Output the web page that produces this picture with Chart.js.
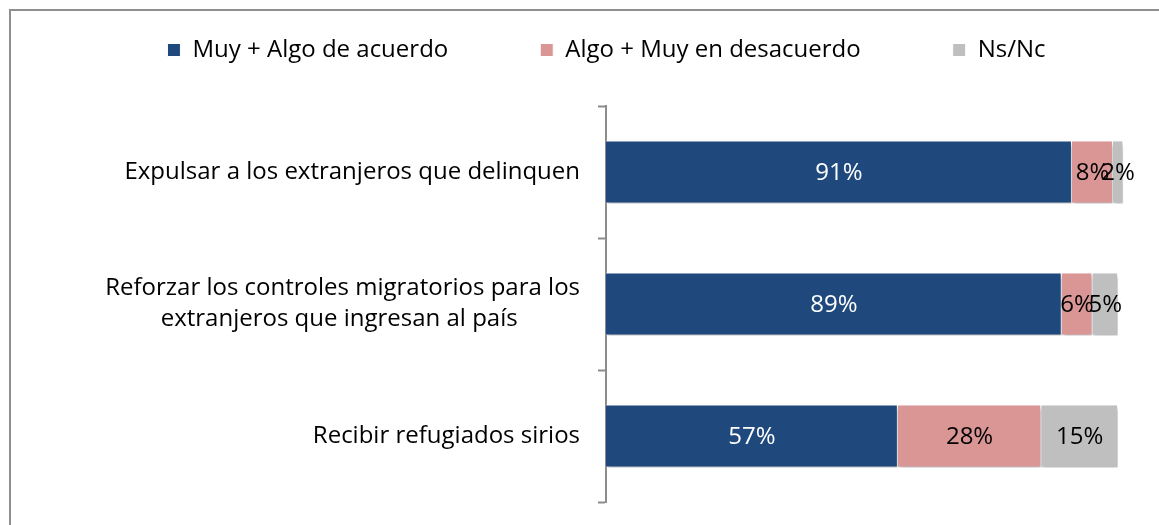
<!DOCTYPE html>
<html>
<head>
<meta charset="utf-8">
<script src="https://cdn.jsdelivr.net/npm/chart.js@4.4.0/dist/chart.umd.min.js"></script>
<style>
  html, body { margin: 0; padding: 0; background: #fff; }
  #wrap { position: absolute; left: 0; top: 0; width: 1159px; height: 525px; }
  #frame { position: absolute; left: 9px; top: 9px; width: 1200px; height: 600px;
           border-left: 2px solid #8f8f8f; border-top: 2px solid #8f8f8f; }
</style>
</head>
<body>
<div id="frame"></div>
<div id="wrap"><canvas id="chart" width="1159" height="525"></canvas></div>
<script>
// Categories (multi-line labels as arrays)
const categories = [
  'Expulsar a los extranjeros que delinquen',
  ['Reforzar los controles migratorios para los', 'extranjeros que ingresan al país          '],
  'Recibir refugiados sirios'
];
const seriesNames = ['Muy + Algo de acuerdo', 'Algo + Muy en desacuerdo', 'Ns/Nc'];
const acuerdo = [91, 89, 57];
const desacuerdo = [8, 6, 28];
const nsnc = [2, 5, 15];
const colors = ['#1f497d', '#d99694', '#bfbfbf'];
const labelColors = ['#ffffff', '#000000', '#000000'];

const FONT = '"Open Sans", Lato, sans-serif';

// soft shadow under the bars
const barShadow = {
  id: 'barShadow',
  beforeDatasetsDraw(chart) {
    const ctx = chart.ctx;
    ctx.save();
    ctx.shadowColor = 'rgba(0,0,0,0.3)';
    ctx.shadowBlur = 4;
    ctx.shadowOffsetX = 1;
    ctx.shadowOffsetY = 3;
  },
  afterDatasetsDraw(chart) {
    chart.ctx.restore();
  }
};

// value labels centred in each segment
const valueLabels = {
  id: 'valueLabels',
  afterDatasetsDraw(chart) {
    const ctx = chart.ctx;
    ctx.save();
    ctx.font = '24px ' + FONT;
    ctx.textAlign = 'center';
    ctx.textBaseline = 'middle';
    chart.data.datasets.forEach((ds, i) => {
      const meta = chart.getDatasetMeta(i);
      ctx.fillStyle = labelColors[i];
      meta.data.forEach((bar, j) => {
        const cx = (bar.x + bar.base) / 2;
        ctx.fillText(ds.data[j] + '%', cx, bar.y + 1);
      });
    });
    ctx.restore();
  }
};

// keep the legend as a short band above the plot
const legendBand = {
  id: 'legendBand',
  beforeLayout(chart) {
    const legend = chart.legend;
    if (!legend || legend._bandPatched) return;
    const fit = legend.fit;
    legend.fit = function () {
      fit.call(this);
      this.height = 160;
    };
    legend._bandPatched = true;
  }
};

const ctx = document.getElementById('chart').getContext('2d');
new Chart(ctx, {
  type: 'bar',
  data: {
    labels: categories,
    datasets: [
      { label: seriesNames[0], data: acuerdo, backgroundColor: colors[0] },
      { label: seriesNames[1], data: desacuerdo, backgroundColor: colors[1] },
      { label: seriesNames[2], data: nsnc, backgroundColor: colors[2] }
    ]
  },
  options: {
    indexAxis: 'y',
    responsive: false,
    animation: false,
    maintainAspectRatio: false,
    layout: {
      padding: { top: -54, right: 0, bottom: 23, left: 54 }
    },
    datasets: {
      bar: {
        borderColor: '#ffffff',
        borderWidth: 1,
        barPercentage: 0.477,
        categoryPercentage: 1
      }
    },
    plugins: {
      legend: {
        display: true,
        position: 'top',
        labels: {
          boxWidth: 13,
          boxHeight: 13,
          padding: 92,
          color: '#000000',
          font: { family: FONT, size: 24 }
        }
      },
      tooltip: { enabled: false }
    },
    scales: {
      x: {
        stacked: true,
        display: false,
        min: 0,
        max: 108
      },
      y: {
        stacked: true,
        afterFit: function(scale) {
          scale.width = 552;
          scale.paddingTop = 0;
          scale.paddingBottom = 0;
        },
        border: { display: true, color: '#8c8c8c', width: 2 },
        grid: {
          drawOnChartArea: false,
          drawTicks: true,
          tickLength: 8,
          tickWidth: 2,
          color: '#8c8c8c'
        },
        ticks: {
          color: '#000000',
          padding: 18,
          font: { family: FONT, size: 24, lineHeight: 1.3 }
        }
      }
    }
  },
  plugins: [barShadow, valueLabels, legendBand]
});
</script>
</body>
</html>
